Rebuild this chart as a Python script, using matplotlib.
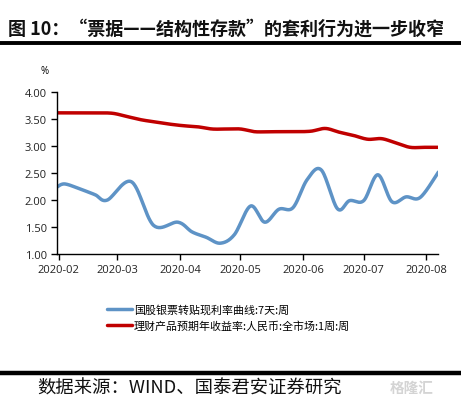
import matplotlib
matplotlib.use("Agg")
import matplotlib.pyplot as plt
import matplotlib.dates as mdates
import numpy as np
import pandas as pd

plt.rcParams['font.family'] = ['Noto Sans CJK SC', 'DejaVu Sans']

# ---------------- data ----------------
blue_dates = ["2020-01-31", "2020-02-04", "2020-02-12", "2020-02-19", "2020-02-25",
              "2020-03-08", "2020-03-19", "2020-03-31", "2020-04-07", "2020-04-14",
              "2020-04-21", "2020-04-28", "2020-05-06", "2020-05-13", "2020-05-20",
              "2020-05-27", "2020-06-03", "2020-06-10", "2020-06-18", "2020-06-24",
              "2020-07-01", "2020-07-08", "2020-07-15", "2020-07-22", "2020-07-29",
              "2020-08-07"]
blue_values = [2.24, 2.30, 2.20, 2.10, 2.00,
               2.34, 1.53, 1.59, 1.41, 1.31,
               1.20, 1.36, 1.89, 1.59, 1.83,
               1.86, 2.38, 2.56, 1.84, 1.99,
               1.99, 2.47, 1.97, 2.06, 2.05,
               2.52]

red_dates = ["2020-01-31", "2020-02-07", "2020-02-14", "2020-02-21", "2020-02-28",
             "2020-03-06", "2020-03-13", "2020-03-20", "2020-03-27", "2020-04-03",
             "2020-04-10", "2020-04-17", "2020-04-24", "2020-05-01", "2020-05-08",
             "2020-05-15", "2020-05-22", "2020-05-29", "2020-06-05", "2020-06-12",
             "2020-06-19", "2020-06-26", "2020-07-03", "2020-07-10", "2020-07-17",
             "2020-07-24", "2020-07-31", "2020-08-07"]
red_values = [3.62, 3.62, 3.62, 3.62, 3.61,
              3.55, 3.49, 3.45, 3.41, 3.38,
              3.36, 3.32, 3.32, 3.32, 3.27,
              3.27, 3.27, 3.27, 3.28, 3.33,
              3.26, 3.20, 3.13, 3.14, 3.06,
              2.98, 2.98, 2.98]

blue_label = "国股银票转贴现利率曲线:7天:周"
red_label = "理财产品预期年收益率:人民币:全市场:1周:周"
title = "图 10：“票据——结构性存款”的套利行为进一步收窄"
source = "数据来源：WIND、国泰君安证券研究"
y_ticks = [1.0, 1.5, 2.0, 2.5, 3.0, 3.5, 4.0]
x_ticks = ["2020-02", "2020-03", "2020-04", "2020-05", "2020-06", "2020-07", "2020-08"]


def smooth(dates, values, n=30):
    """Excel-like smoothed line (Catmull-Rom Bezier through the points)."""
    x = mdates.date2num(pd.to_datetime(dates))
    y = np.asarray(values, dtype=float)
    P = np.column_stack([x, y])
    Pp = np.vstack([P[0], P, P[-1]])
    out = []
    t = np.linspace(0, 1, n)[:, None]
    for i in range(len(P) - 1):
        p0, p3 = Pp[i + 1], Pp[i + 2]
        c1 = p0 + (Pp[i + 2] - Pp[i]) / 6.0
        c2 = p3 - (Pp[i + 3] - Pp[i + 1]) / 6.0
        seg = ((1 - t) ** 3) * p0 + 3 * ((1 - t) ** 2) * t * c1 + 3 * (1 - t) * t ** 2 * c2 + t ** 3 * p3
        out.append(seg if i == 0 else seg[1:])
    out = np.vstack(out)
    return out[:, 0], out[:, 1]


fig = plt.figure(figsize=(4.61, 4.06), dpi=100)
ax = fig.add_axes([0.123, 0.372, 0.828, 0.398])

bx, by = smooth(blue_dates, blue_values)
rx, ry = smooth(red_dates, red_values)
ax.plot(bx, by, color="#5E93C6", lw=2.5, solid_capstyle="round", label=blue_label)
ax.plot(rx, ry, color="#C00000", lw=2.5, solid_capstyle="round", label=red_label)

ax.set_ylim(1.0, 4.0)
ax.set_yticks(y_ticks)
ax.set_yticklabels([f"{v:.2f}" for v in y_ticks])
ax.set_xlim(mdates.date2num(pd.Timestamp("2020-01-31")), mdates.date2num(pd.Timestamp("2020-08-07")))
ax.set_xticks(mdates.date2num(pd.to_datetime([d + "-01" for d in x_ticks])))
ax.set_xticklabels(x_ticks)

for s in ["top", "right"]:
    ax.spines[s].set_visible(False)
for s in ["left", "bottom"]:
    ax.spines[s].set_color("black")
    ax.spines[s].set_linewidth(1.0)
ax.tick_params(axis="both", direction="out", length=4, width=1.0, colors="black",
               labelsize=8, pad=3)
for lab in ax.get_xticklabels() + ax.get_yticklabels():
    lab.set_family(["Open Sans", "DejaVu Sans"])
    lab.set_color("#222222")

fig.text(45 / 461, 1 - 72 / 406, "%", fontsize=7, ha="center", va="center",
         family=["Open Sans", "DejaVu Sans"])

# legend
leg = fig.legend(loc="upper left", bbox_to_anchor=(103 / 461, 1 - 301 / 406),
                 frameon=False, fontsize=7.9, handlelength=2.2, handletextpad=0.2,
                 labelspacing=0.45, borderaxespad=0)

# title and rules
fig.text(8 / 461, 1 - 29 / 406, title, fontsize=13, fontweight="bold",
         ha="left", va="center", color="#111111")
fig.add_artist(plt.Line2D([0, 1], [1 - 43.5 / 406] * 2, color="black", lw=2.8,
                          transform=fig.transFigure))
fig.add_artist(plt.Line2D([0, 1], [1 - 374 / 406] * 2, color="black", lw=3.2,
                          transform=fig.transFigure))
fig.text(37 / 461, 1 - 389 / 406, source, fontsize=13.2, ha="left", va="center",
         color="#111111")
fig.text(412 / 461, 1 - 388 / 406, "格隆汇", fontsize=10.5, ha="center", va="center",
         color="#d4d4d4", fontweight="bold")

fig.savefig("out.png", dpi=100)
